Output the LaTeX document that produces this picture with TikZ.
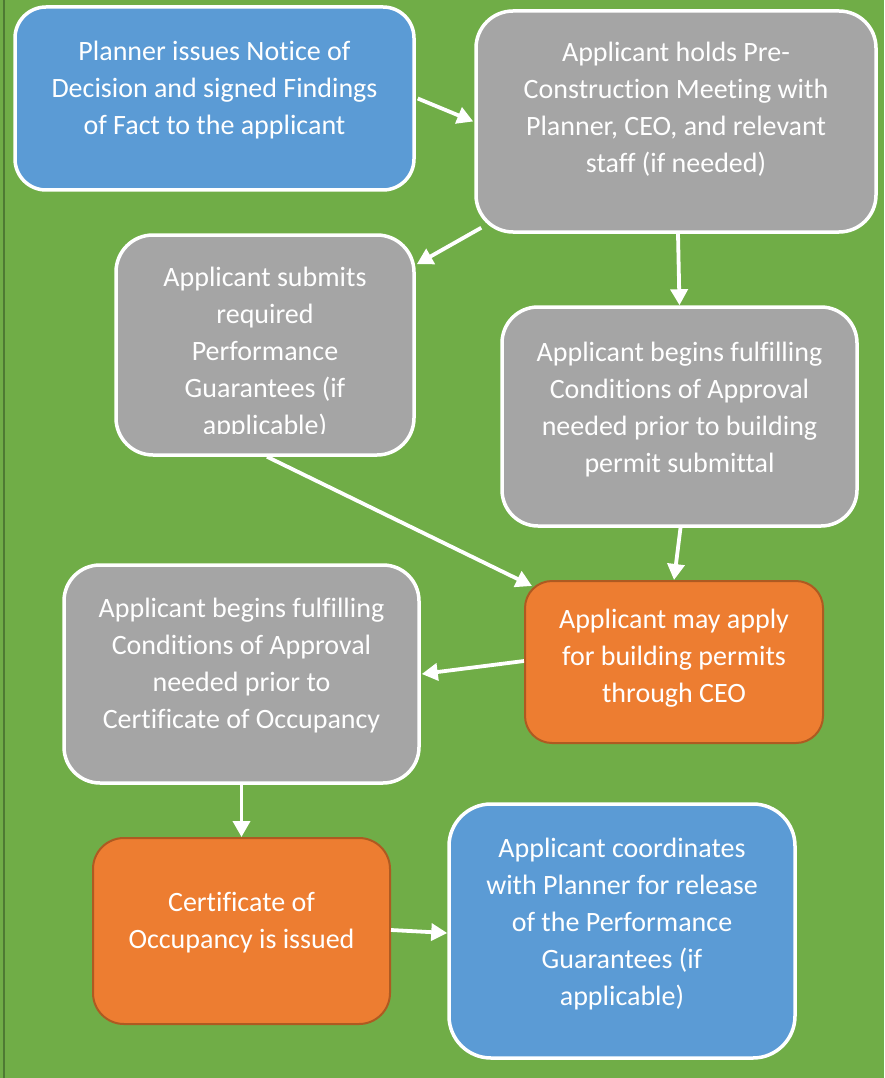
\documentclass[tikz,border=0pt]{standalone}
\usepackage{fontspec}
\setmainfont{Carlito}[Ligatures={NoCommon}]
\usetikzlibrary{arrows.meta,calc}
\definecolor{bggreen}{HTML}{70AD47}
\definecolor{edgegreen}{HTML}{4E7A33}
\definecolor{boxblue}{HTML}{5B9BD5}
\definecolor{boxgray}{HTML}{A5A5A5}
\definecolor{boxorange}{HTML}{ED7D31}
\definecolor{orangeedge}{HTML}{AE5A21}
\tikzset{
  box/.style={rectangle, draw=white, line width=3.5pt, inner sep=0pt},
  bluebox/.style={box, fill=boxblue},
  graybox/.style={box, fill=boxgray},
  orangebox/.style={box, fill=boxorange, draw=orangeedge, line width=2pt},
  txt/.style={text=white, align=center, inner sep=0pt, font=\fontsize{28}{37}\selectfont},
  arr/.style={draw=white, line width=3.8pt, -{Triangle[length=16pt,width=17pt]}},
}
\begin{document}
\begin{tikzpicture}[x=1pt,y=-1pt]
\fill[bggreen] (0,0) rectangle (884,1078);
\useasboundingbox (0,0) rectangle (884,1078);
\draw[edgegreen, line width=2pt] (4,0) -- (4,1078);

% boxes
\node[bluebox, minimum width=399pt, minimum height=183pt, rounded corners=31pt] (b1) at (214.5,98.5) {};
\node[graybox, minimum width=400pt, minimum height=221pt, rounded corners=37pt] (b2) at (676,121.5) {};
\node[graybox, minimum width=298pt, minimum height=220pt, rounded corners=37pt] (b3) at (265,345) {};
\node[graybox, minimum width=355pt, minimum height=219pt, rounded corners=36pt] (b4) at (679.5,416.5) {};
\node[orangebox, minimum width=298pt, minimum height=162pt, rounded corners=27pt] (b5) at (674,662) {};
\node[graybox, minimum width=355pt, minimum height=218pt, rounded corners=36pt] (b6) at (241.5,674) {};
\node[orangebox, minimum width=297pt, minimum height=186pt, rounded corners=31pt] (b7) at (241.5,931) {};
\node[bluebox, minimum width=346pt, minimum height=254pt, rounded corners=42pt] (b8) at (622,931) {};

% texts
\node[txt] (t1) at ([yshift=8pt]b1.center) {Planner issues Notice of\\Decision and signed Findings\\of Fact to the applicant};
\node[txt] (t2) at ([yshift=12pt]b2.center) {Applicant holds Pre-\\Construction Meeting with\\Planner, CEO, and relevant\\staff (if needed)};
\begin{scope}
\clip (116,235) rectangle (414,433);
\node[txt] (t3) at ([yshift=-8pt]b3.center) {Applicant submits\\required\\Performance\\Guarantees (if\\applicable)};
\end{scope}
\node[txt] (t4) at ([yshift=7pt]b4.center) {Applicant begins fulfilling\\Conditions of Approval\\needed prior to building\\permit submittal};
\node[txt] (t5) at ([yshift=4pt]b5.center) {Applicant may apply\\for building permits\\through CEO};
\node[txt] (t6) at ([yshift=8pt]b6.center) {Applicant begins fulfilling\\Conditions of Approval\\needed prior to\\Certificate of Occupancy};
\node[txt] (t7) at ([yshift=8pt]b7.center) {Certificate of\\Occupancy is issued};
\node[txt] (t8) at ([yshift=7pt]b8.center) {Applicant coordinates\\with Planner for release\\of the Performance\\Guarantees (if\\applicable)};

% connectors
\draw[arr] ([xshift=2pt]b1.east) -- ([xshift=-1pt]b2.west);
\draw[arr] ([xshift=7pt,yshift=6pt]b2.south west) -- ([xshift=1pt,yshift=-31pt]b3.north east);
\draw[arr] ([xshift=2pt]b2.south) -- (b4.north);
\draw[arr] ([xshift=2pt]b3.south) -- ([xshift=8pt,yshift=-6pt]b5.north west);
\draw[arr] ([xshift=1pt]b4.south) -- (b5.north);
\draw[arr] ([yshift=1pt]b5.west) -- ([xshift=1pt]b6.east);
\draw[arr] (b6.south) -- (b7.north);
\draw[arr] ([yshift=1pt]b7.east) -- ([yshift=-2pt]b8.west);
\end{tikzpicture}
\end{document}
